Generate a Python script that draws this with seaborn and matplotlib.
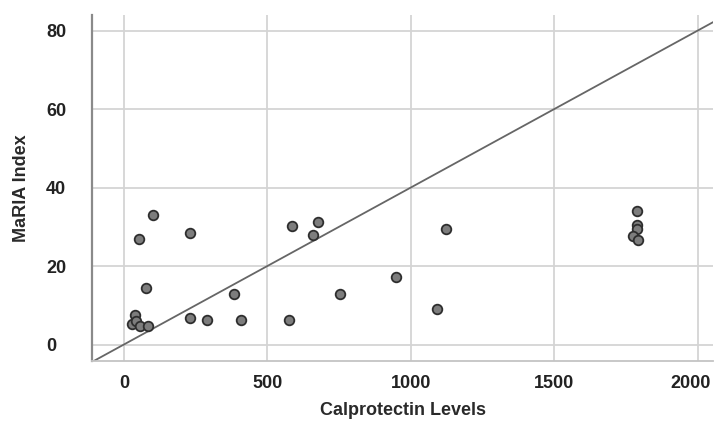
import matplotlib
matplotlib.use("Agg")
import matplotlib.pyplot as plt
import matplotlib.transforms as mtransforms
import seaborn as sns
import pandas as pd

# values
calprotectin = [101, 52, 230, 76, 38, 27, 44, 58, 85, 230, 290, 385, 408,
                577, 587, 678, 658, 753, 947, 1091, 1123,
                1790, 1790, 1790, 1775, 1792]
maria = [33.0, 26.8, 28.5, 14.5, 7.4, 5.2, 6.0, 4.6, 4.6, 6.7, 6.3, 13.0, 6.2,
         6.2, 30.2, 31.2, 27.9, 12.8, 17.2, 9.0, 29.4,
         34.0, 30.4, 29.4, 27.7, 26.7]
x_ticks = [0, 500, 1000, 1500, 2000]
y_ticks = [0, 20, 40, 60, 80]
ref_slope = 0.04

df = pd.DataFrame({'Calprotectin Levels': calprotectin, 'MaRIA Index': maria})

sns.set_style('whitegrid')
plt.rcParams['font.family'] = ['Liberation Sans', 'DejaVu Sans']

fig = plt.figure(figsize=(7.15, 4.21), dpi=100)
ax = fig.add_axes([0.1287, 0.1425, 0.869, 0.822])

ax.axline((0, 0), slope=ref_slope, color='#666666', lw=1.3, zorder=2)
sns.scatterplot(data=df, x='Calprotectin Levels', y='MaRIA Index', ax=ax,
                s=48, color='#7d7d7d', edgecolor='#2e2e2e', linewidth=1.3, zorder=3)

ax.set_xlim(-111, 2055)
ax.set_ylim(-4.2, 84)
ax.set_xticks(x_ticks)
ax.set_yticks(y_ticks)
ax.grid(True, color='#d4d4d4', lw=1.3)

for side in ['top', 'right']:
    ax.spines[side].set_visible(False)
ax.spines['left'].set_color('#8a8a8a')
ax.spines['left'].set_linewidth(1.6)
ax.spines['bottom'].set_color('#c4c4c4')
ax.spines['bottom'].set_linewidth(1.3)

ax.tick_params(axis='y', length=0, pad=33, labelsize=13, labelcolor='#222222')
ax.tick_params(axis='x', length=0, pad=10, labelsize=13, labelcolor='#222222')
for lab in ax.get_yticklabels():
    lab.set_horizontalalignment('left')
    lab.set_fontweight('bold')
for lab in ax.get_xticklabels():
    lab.set_fontweight('bold')
# last x label sits a bit left of its gridline, as in the original
last = ax.get_xticklabels()[-1]
last.set_transform(last.get_transform() + mtransforms.ScaledTranslation(-0.07, 0, fig.dpi_scale_trans))

ax.set_xlabel('Calprotectin Levels', fontsize=13, fontweight='bold', color='#2a2a2a', labelpad=7)
ax.set_ylabel('MaRIA Index', fontsize=13, fontweight='bold', color='#2a2a2a', labelpad=12)

plt.savefig('out.png', dpi=100)
plt.close()
